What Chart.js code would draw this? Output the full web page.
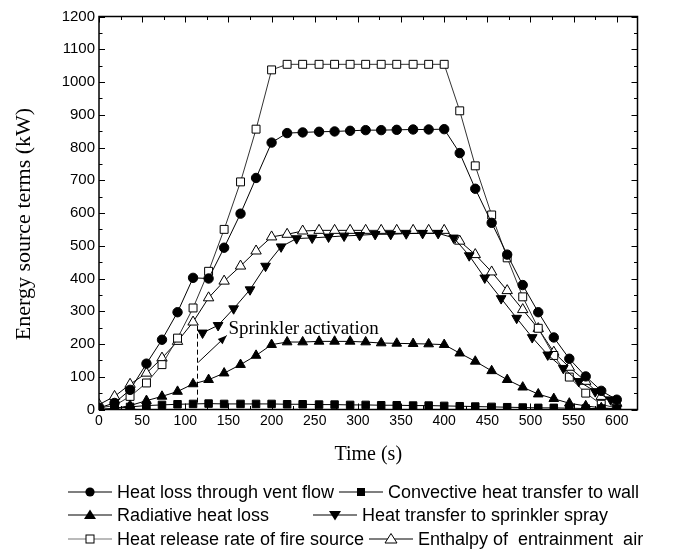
<!DOCTYPE html>
<html><head><meta charset="utf-8">
<script src="https://cdn.jsdelivr.net/npm/chart.js@4.4.0/dist/chart.umd.min.js"></script>
<style>
html,body{margin:0;padding:0;background:#fff;}
#wrap{position:relative;width:683px;height:553px;overflow:hidden;}
#c{position:absolute;left:0;top:0;}
.leg{position:absolute;font-family:"Liberation Sans",Arial,sans-serif;font-size:18px;color:#000;white-space:nowrap;line-height:20px;height:20px;display:flex;align-items:center;}
.leg svg{margin-right:5px;flex:none;}
</style></head><body>
<div id="wrap"><canvas id="c" width="683" height="553"></canvas><div id="legend"></div></div>
<script>
// ---- data ----
const timesMain = [0,18,36,55,73,91,109,127,145,164,182,200,218,236,255,273,291,309,327,345,364,382,400,418,436,455,473,491,509,527,545,564,582,600];
const timesSpray = [120,138,156,175,193,211,229,247,266,284,302,320,338,356,375,393,411,429,447,466,484,502,520,538,556,575,593];
const ventFlow = [5,20,60,140,213,297,402,400,494,598,707,815,844,846,848,849,851,853,853,854,855,855,856,783,674,570,473,380,297,220,155,101,57,30];
const convective = [0,3,8,12,14,16,17,18,17,17,17,17,16,16,15,15,14,14,13,13,12,12,11,10,9,8,7,6,5,5,4,3,3,2];
const radiative = [0,3,12,27,40,55,78,91,111,137,165,198,206,206,208,208,208,206,203,202,201,200,198,172,147,118,91,68,47,33,19,11,5,2];
const sprinklerSpray = [234,257,308,366,438,497,522,524,527,530,532,535,535,537,538,538,524,470,402,339,279,220,167,126,86,55,30];
const heatRelease = [5,12,40,81,137,218,310,422,550,695,856,1037,1054,1054,1054,1054,1054,1054,1054,1054,1054,1054,1054,912,744,594,463,344,248,165,99,50,16,4];
const enthalpy = [15,40,77,111,157,208,267,341,392,438,484,527,535,545,547,547,547,547,547,547,547,547,547,514,473,420,363,305,247,175,129,86,40,19];
const seriesNames = ["Heat loss through vent flow","Convective heat transfer to wall","Radiative heat loss","Heat transfer to sprinkler spray","Heat release rate of fire source","Enthalpy of  entrainment  air"];
const xTicks = [0,50,100,150,200,250,300,350,400,450,500,550,600];
const yTicks = [0,100,200,300,400,500,600,700,800,900,1000,1100,1200];
const xRange = [0,624];
const yRange = [0,1200];
const xTitle = "Time (s)";
const yTitle = "Energy source terms (kW)";
const activationTime = 113;
const dashRange = [256,17];
const arrowFrom = [115,144];
const arrowTo = [148,226];
const annotText = "Sprinkler activation";
const annotPos = [150,246];

const pts = (xs, ys) => xs.map((t,i)=>({x:t,y:ys[i]}));

const base = {borderColor:'#000',borderWidth:1,tension:0,pointBorderColor:'#000',pointBorderWidth:1,pointHoverRadius:0};
const datasets = [
  Object.assign({},base,{label:seriesNames[0],data:pts(timesMain,ventFlow),pointStyle:'circle',pointRadius:4.7,pointBackgroundColor:'#000'}),
  Object.assign({},base,{label:seriesNames[1],data:pts(timesMain,convective),pointStyle:'rect',pointRadius:5.3,pointBackgroundColor:'#000'}),
  Object.assign({},base,{label:seriesNames[2],data:pts(timesMain,radiative),pointStyle:'triangle',pointRadius:5.6,pointBackgroundColor:'#000'}),
  Object.assign({},base,{label:seriesNames[3],data:pts(timesSpray,sprinklerSpray),pointStyle:'triangle',pointRotation:180,pointRadius:5.6,pointBackgroundColor:'#000'}),
  Object.assign({},base,{label:seriesNames[4],data:pts(timesMain,heatRelease),pointStyle:'rect',pointRadius:5.6,pointBackgroundColor:'#fff',borderColor:'#333'}),
  Object.assign({},base,{label:seriesNames[5],data:pts(timesMain,enthalpy),pointStyle:'triangle',pointRadius:6,pointBackgroundColor:'#fff'})
];

const framePlugin = {
  id:'frame',
  afterDatasetsDraw(chart){
    const {ctx, chartArea:a, scales:{x,y}} = chart;
    ctx.save();
    ctx.strokeStyle='#000';ctx.fillStyle='#000';ctx.lineWidth=1;
    ctx.setLineDash([5,3]);
    const dx = Math.round(x.getPixelForValue(activationTime))+0.5;
    ctx.beginPath();ctx.moveTo(dx,y.getPixelForValue(dashRange[0]));ctx.lineTo(dx,y.getPixelForValue(dashRange[1]));ctx.stroke();
    ctx.setLineDash([]);
    const x1=x.getPixelForValue(arrowFrom[0]), y1=y.getPixelForValue(arrowFrom[1]);
    const x2=x.getPixelForValue(arrowTo[0]), y2=y.getPixelForValue(arrowTo[1]);
    ctx.beginPath();ctx.moveTo(x1,y1);ctx.lineTo(x2,y2);ctx.stroke();
    const ang=Math.atan2(y2-y1,x2-x1), hl=9, hw=3.5;
    ctx.beginPath();ctx.moveTo(x2,y2);
    ctx.lineTo(x2-hl*Math.cos(ang)+hw*Math.sin(ang), y2-hl*Math.sin(ang)-hw*Math.cos(ang));
    ctx.lineTo(x2-hl*Math.cos(ang)-hw*Math.sin(ang), y2-hl*Math.sin(ang)+hw*Math.cos(ang));
    ctx.closePath();ctx.fill();
    ctx.font='19px "Liberation Serif","Times New Roman",serif';
    ctx.textBaseline='middle';ctx.textAlign='left';
    ctx.fillText(annotText, x.getPixelForValue(annotPos[0]), y.getPixelForValue(annotPos[1]));
    // frame
    ctx.lineWidth=1.5;
    ctx.strokeRect(a.left,a.top,a.right-a.left,a.bottom-a.top);
    ctx.lineWidth=1;
    ctx.beginPath();
    for(let i=0;i<yTicks.length;i++){
      const py=Math.round(y.getPixelForValue(yTicks[i]))+0.5;
      ctx.moveTo(a.left,py);ctx.lineTo(a.left+6,py);
      ctx.moveTo(a.right,py);ctx.lineTo(a.right-6,py);
      if(i<yTicks.length-1){
        const pm=Math.round(y.getPixelForValue((yTicks[i]+yTicks[i+1])/2))+0.5;
        ctx.moveTo(a.left,pm);ctx.lineTo(a.left+3.5,pm);
        ctx.moveTo(a.right,pm);ctx.lineTo(a.right-3.5,pm);
      }
    }
    for(let i=0;i<xTicks.length;i++){
      const px=Math.round(x.getPixelForValue(xTicks[i]))+0.5;
      ctx.moveTo(px,a.bottom);ctx.lineTo(px,a.bottom-6);
      ctx.moveTo(px,a.top);ctx.lineTo(px,a.top+6);
      const nx = i<xTicks.length-1 ? (xTicks[i]+xTicks[i+1])/2 : xTicks[i]+(xTicks[1]-xTicks[0])/2;
      if(nx<xRange[1]){
        const pm=Math.round(x.getPixelForValue(nx))+0.5;
        ctx.moveTo(pm,a.bottom);ctx.lineTo(pm,a.bottom-3.5);
        ctx.moveTo(pm,a.top);ctx.lineTo(pm,a.top+3.5);
      }
    }
    ctx.stroke();
    // y axis title (slightly below the plot centre, as in the reference)
    ctx.translate(24.5,(a.top+a.bottom)/2+11);
    ctx.rotate(-Math.PI/2);
    ctx.font='22px "Liberation Serif","Times New Roman",serif';
    ctx.textAlign='center';ctx.textBaseline='middle';
    ctx.fillText(yTitle,0,0);
    ctx.restore();
  }
};

new Chart(document.getElementById('c'),{
  type:'line',
  data:{datasets},
  options:{
    responsive:false,animation:false,
    layout:{padding:{left:12,top:16.5,right:45.5,bottom:86}},
    plugins:{legend:{display:false},tooltip:{enabled:false}},
    scales:{
      x:{type:'linear',min:xRange[0],max:xRange[1],
        afterBuildTicks:s=>{s.ticks=xTicks.map(v=>({value:v}));},
        afterFit:s=>{s.height=57.5;},
        grid:{display:false,drawTicks:false},border:{display:false},
        ticks:{padding:3,maxRotation:0,autoSkip:false,color:'#000',callback:v=>String(v),font:{family:'"Liberation Sans",Arial,sans-serif',size:14}},
        title:{display:true,text:xTitle,color:'#000',padding:0,font:{family:'"Liberation Serif","Times New Roman",serif',size:20}}
      },
      y:{type:'linear',min:yRange[0],max:yRange[1],
        afterBuildTicks:s=>{s.ticks=yTicks.map(v=>({value:v}));},
        afterFit:s=>{s.width=87;},
        grid:{display:false,drawTicks:false},border:{display:false},
        ticks:{padding:4,autoSkip:false,color:'#000',callback:v=>String(v),font:{family:'"Liberation Sans",Arial,sans-serif',size:15}},
        title:{display:false}
      }
    }
  },
  plugins:[framePlugin]
});

// ---- HTML legend ----
const icons = [
  '<circle cx="22" cy="8" r="4.6" fill="#000"/>',
  '<rect x="18" y="4" width="8" height="8" fill="#000"/>',
  '<polygon points="22,2.5 28,12 16,12" fill="#000"/>',
  '<polygon points="16,4 28,4 22,13.5" fill="#000"/>',
  '<rect x="18" y="4" width="8" height="8" fill="#fff" stroke="#000" stroke-width="1"/>',
  '<polygon points="22,2.5 28,12 16,12" fill="#fff" stroke="#000" stroke-width="1"/>'
];
const lineCol = ['#000','#000','#000','#000','#777','#000'];
const legPos = [[68,492],[339,492],[68,515],[313,515],[68,539],[369,539]];
const lg = document.getElementById('legend');
seriesNames.forEach((n,i)=>{
  const d=document.createElement('div');d.className='leg';
  d.style.left=legPos[i][0]+'px';d.style.top=(legPos[i][1]-10)+'px';
  d.innerHTML='<svg width="44" height="16" viewBox="0 0 44 16"><line x1="0" y1="8" x2="44" y2="8" stroke="'+lineCol[i]+'" stroke-width="1.2"/>'+icons[i]+'</svg><span>'+n.replace(/ /g,'&nbsp;')+'</span>';
  lg.appendChild(d);
});
</script>
</body></html>
